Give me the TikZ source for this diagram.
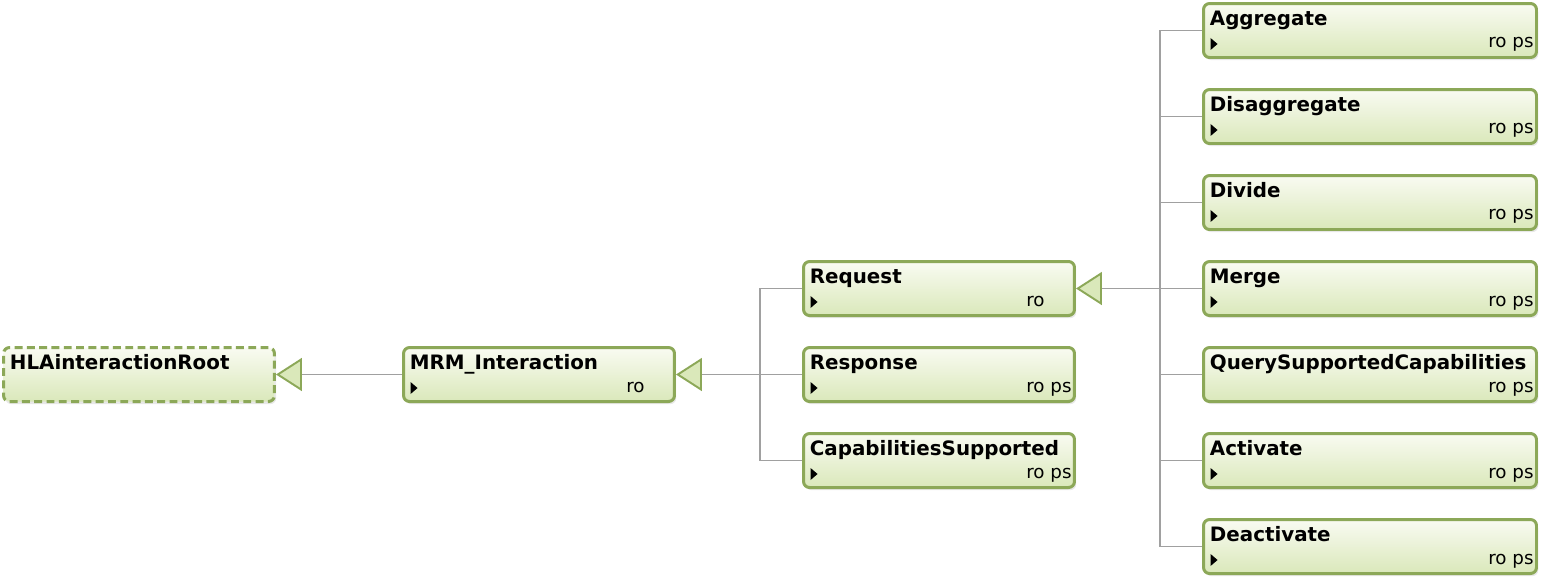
\documentclass[tikz,border=0pt]{standalone}
\usepackage{fontspec}
\setmainfont{DejaVu Sans}
\usetikzlibrary{arrows.meta,shadows}
\definecolor{clsline}{RGB}{140,168,88}
\definecolor{clstop}{RGB}{249,251,242}
\definecolor{clsbot}{RGB}{218,232,186}
\definecolor{wire}{RGB}{160,160,160}
\tikzset{
  cls/.style={draw=clsline, line width=1.7pt, rounded corners=0.12cm,
    top color=clstop, bottom color=clsbot, inner sep=0pt,
    minimum width=5.42cm, minimum height=1.08cm,
    drop shadow={shadow xshift=1pt, shadow yshift=-1.5pt, opacity=0.18}},
  widecls/.style={cls, minimum width=6.66cm},
  rootcls/.style={cls, dash pattern=on 4.5pt off 2.5pt},
  ttl/.style={anchor=base west, inner sep=0pt, font=\fontsize{11.3}{13}\selectfont\bfseries},
  flg/.style={anchor=base west, inner sep=0pt, font=\fontsize{10.4}{12}\selectfont},
  link/.style={draw=wire, line width=0.9pt},
  gen/.style={link, -{Triangle[length=0.52cm, width=0.66cm, fill=clsbot, color=clsline, line width=1.1pt]}}
}
\begin{document}
\begin{tikzpicture}[x=0.02cm, y=-0.02cm]
\useasboundingbox (0,0) rectangle (1550,586);
% left part
\node[rootcls] (hla) at (139,374.5) {};
\node[ttl] at ([shift={(7.5,23.5)}]hla.north west) {HLAinteractionRoot};
\node[cls] (mrm) at (539,374.5) {};
\node[ttl] at ([shift={(7.5,23.5)}]mrm.north west) {MRM\_Interaction};
\node[flg] at ([shift={(-50,-11)}]mrm.south east) {ro};
\fill ([shift={(8.5,-21)}]mrm.south west) -- ++(0,12) -- ++(7,-6) -- cycle;
% middle column
\foreach \nm/\yy/\txt/\fl in {request/288.5/Request/ro, response/374.5/Response/ro ps,
    capsup/460.5/CapabilitiesSupported/ro ps} {
  \node[cls] (\nm) at (939,\yy) {};
  \node[ttl] at ([shift={(7.5,23.5)}]\nm.north west) {\txt};
  \node[flg] at ([shift={(-50,-11)}]\nm.south east) {\fl};
  \fill ([shift={(8.5,-21)}]\nm.south west) -- ++(0,12) -- ++(7,-6) -- cycle;
}
% right column
\foreach \nm/\yy/\txt in {aggregate/30.5/Aggregate, disaggregate/116.5/Disaggregate,
    divide/202.5/Divide, merge/288.5/Merge, activate/460.5/Activate,
    deactivate/546.5/Deactivate} {
  \node[widecls] (\nm) at (1370,\yy) {};
  \node[ttl] at ([shift={(7.5,23.5)}]\nm.north west) {\txt};
  \node[flg] at ([shift={(-50,-11)}]\nm.south east) {ro ps};
  \fill ([shift={(8.5,-21)}]\nm.south west) -- ++(0,12) -- ++(7,-6) -- cycle;
}
\node[widecls] (querycaps) at (1370,374.5) {};
\node[ttl] at ([shift={(7.5,23.5)}]querycaps.north west) {QuerySupportedCapabilities};
\node[flg] at ([shift={(-50,-11)}]querycaps.south east) {ro ps};
% connectors
\coordinate (j1) at (760,374.5);
\coordinate (j2) at (1160,288.5);
\draw[gen] (mrm.west) -- (hla.east);
\draw[gen] (j1) -- (mrm.east);
\foreach \nm in {request,response,capsup}
  \draw[link] (\nm.west) -| (j1);
\draw[gen] (j2) -- (request.east);
\foreach \nm in {aggregate,disaggregate,divide,merge,querycaps,activate,deactivate}
  \draw[link] (\nm.west) -| (j2);
\end{tikzpicture}
\end{document}
